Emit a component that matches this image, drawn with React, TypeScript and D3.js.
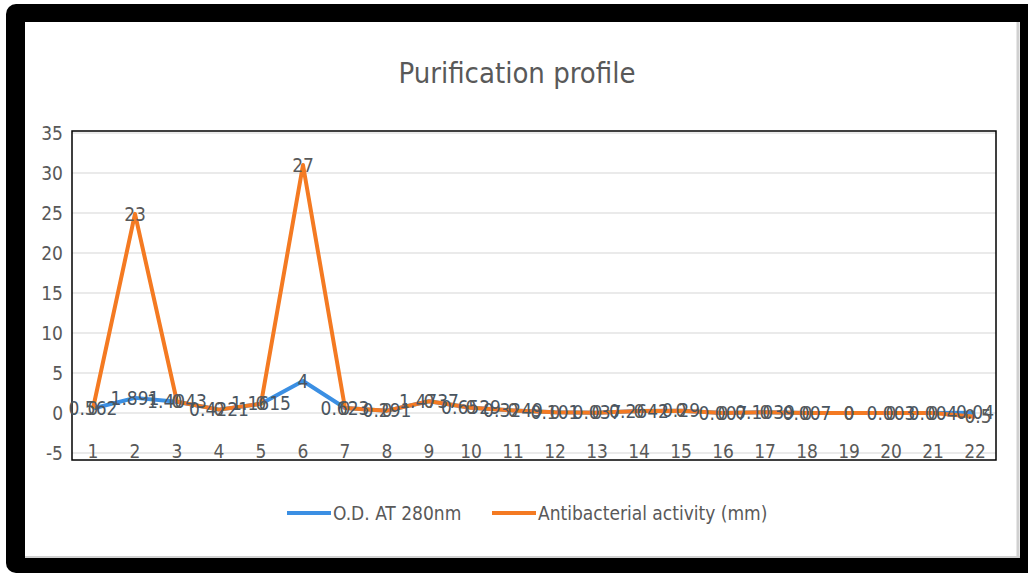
import React from 'react';
import * as d3 from 'd3';

// fractions 1..22
const fractions = d3.range(1, 23).map(String);
const odValues = [0.562, 1.891, 1.4043, 0.4221, 1.1615, 4, 0.623, 0.291, 1.4737, 0.6529, 0.3249, 0.101, 0.037, 0.2642, 0.29, 0.007, 0.1039, 0.007, 0, 0.003, 0.004, 0.04];
const activityValues = [0, 23, 0, 0, 0, 27, 0, 0, 0, 0, 0, 0, 0, 0, 0, 0, 0, 0, 0, 0, 0, -0.5];
const yTicks = [-5, 0, 5, 10, 15, 20, 25, 30, 35];

const BLUE = '#3b8fe3';
const ORANGE = '#f47a22';
const TEXT = '#595959';
const FONT = '"Liberation Sans Narrow", "DejaVu Sans Condensed", "Open Sans", sans-serif';

export default function App() {
  const plot = { left: 72, right: 996, top: 131, bottom: 460 };

  const x = d3.scalePoint<string>().domain(fractions).range([plot.left, plot.right]).padding(0.5);
  const y = d3.scaleLinear().domain([-5, 35]).range([453, 133]);

  // stacked line: orange sits on top of blue
  const stacked = activityValues.map((v, i) => v + odValues[i]);

  const line = d3
    .line<number>()
    .x((_, i) => x(fractions[i]) as number)
    .y((d) => y(d));

  return (
    <svg width={1028} height={575} style={{ position: 'absolute', left: 0, top: 0 }} fontFamily={FONT}>
      {/* frame */}
      <rect x={0} y={0} width={1028} height={575} fill="#fff" />
      <rect x={6} y={4} width={1040} height={569} rx={10} fill="#000" />
      <rect x={25} y={22} width={995} height={536} fill="#fff" />
      <line x1={1018} x2={1018} y1={22} y2={558} stroke="#d0d0d0" strokeWidth={3} />
      <line x1={25} x2={1020} y1={557} y2={557} stroke="#d0d0d0" strokeWidth={2} />

      <text x={517} y={83} textAnchor="middle" fontSize={29} fill={TEXT}>
        Purification profile
      </text>

      {/* grid */}
      {yTicks.map((t) => (
        <g key={t}>
          <line x1={plot.left} x2={plot.right} y1={y(t)} y2={y(t)} stroke="#e3e3e3" strokeWidth={1.5} />
          <text x={63} y={y(t)} dy="0.35em" textAnchor="end" fontSize={19} fill={TEXT}>
            {t}
          </text>
        </g>
      ))}
      <rect
        x={plot.left}
        y={plot.top}
        width={plot.right - plot.left}
        height={plot.bottom - plot.top}
        fill="none"
        stroke="#000"
        strokeWidth={1.5}
      />

      {fractions.map((f) => (
        <text key={f} x={x(f)} y={458} textAnchor="middle" fontSize={19} fill={TEXT}>
          {f}
        </text>
      ))}

      <path d={line(odValues) || ''} fill="none" stroke={BLUE} strokeWidth={4} strokeLinejoin="round" />
      <path d={line(stacked) || ''} fill="none" stroke={ORANGE} strokeWidth={4} strokeLinejoin="round" />

      {/* data labels */}
      {odValues.map((v, i) => (
        <text key={'b' + i} x={x(fractions[i])} y={y(v)} dy="0.35em" textAnchor="middle" fontSize={19} fill="#4a5560">
          {String(v)}
        </text>
      ))}
      {activityValues.map((v, i) => (
        <text key={'o' + i} x={x(fractions[i])} y={y(stacked[i])} dy="0.35em" textAnchor="middle" fontSize={19} fill={TEXT}>
          {String(v)}
        </text>
      ))}

      {/* legend */}
      <line x1={287} x2={331} y1={513} y2={513} stroke={BLUE} strokeWidth={4} />
      <text x={333} y={513} dy="0.35em" fontSize={19} fill={TEXT}>
        O.D. AT 280nm
      </text>
      <line x1={492} x2={536} y1={513} y2={513} stroke={ORANGE} strokeWidth={4} />
      <text x={538} y={513} dy="0.35em" fontSize={19} fill={TEXT}>
        Antibacterial activity (mm)
      </text>
    </svg>
  );
}
